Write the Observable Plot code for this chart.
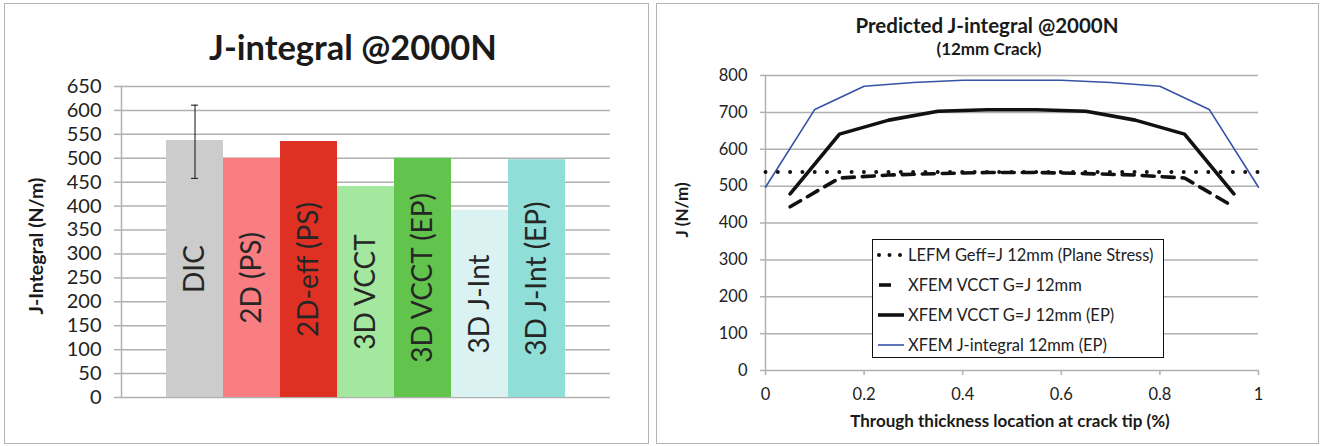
<!DOCTYPE html>
<html>
<head>
<meta charset="utf-8">
<script src="https://cdn.jsdelivr.net/npm/d3@7"></script>
<script src="https://cdn.jsdelivr.net/npm/@observablehq/plot@0.6"></script>
<style>
  html, body { margin: 0; padding: 0; background: #fff; }
  #wrap { position: relative; width: 1321px; height: 446px; overflow: hidden; background: #fff; font-family: Lato, "Open Sans", sans-serif; color: #222; }
  .panel { position: absolute; border: 1.5px solid #b4b4b4; box-sizing: border-box; }
  .abs { position: absolute; }
  .t { position: absolute; transform: translate(-50%, -50%); white-space: nowrap; font-weight: bold; line-height: 1; color: #1a1a1a; }
  .legend { position: absolute; border: 1.5px solid #111; background: #fff; box-sizing: border-box; }
  .row { position: absolute; left: 0; height: 20px; display: flex; align-items: center; font-size: 16.5px; white-space: nowrap; color: #222; }
  .row svg { margin-right: 4px; }
</style>
</head>
<body>
<div id="wrap">
  <div class="panel" style="left:4px;top:3px;width:645px;height:441px"></div>
  <div class="panel" style="left:656px;top:3px;width:663px;height:441px"></div>
  <div id="left" class="abs" style="left:0;top:0"></div>
  <div id="right" class="abs" style="left:655px;top:0"></div>
  <div class="t" style="left:353px;top:47px;font-size:34.5px;">J-integral @2000N</div>
  <div class="t" style="left:36px;top:246px;font-size:19.5px;transform:translate(-50%,-50%) rotate(-90deg);">J-Integral (N/m)</div>
  <div class="t" style="left:987px;top:25px;font-size:20.5px;">Predicted J-integral @2000N</div>
  <div class="t" style="left:989px;top:48px;font-size:17px;">(12mm Crack)</div>
  <div class="t" style="left:681px;top:210px;font-size:17px;transform:translate(-50%,-50%) rotate(-90deg);">J (N/m)</div>
  <div class="t" style="left:1010px;top:420px;font-size:17px;">Through thickness location at crack tip (%)</div>
  <div id="legend" class="legend" style="left:872px;top:239px;width:292px;height:119px"></div>
</div>
<script>
// ---------- Left chart data ----------
const barCategories = ["DIC", "2D (PS)", "2D-eff (PS)", "3D VCCT", "3D VCCT (EP)", "3D J-Int", "3D J-Int (EP)"];
const barValues = [537, 500, 535, 441, 500, 391, 497];
const barColors = ["#cccccc", "#f87e82", "#de3124", "#a4e8a0", "#62c44c", "#daf3f2", "#8fdfd8"];
const dicErrorLow = 458;
const dicErrorHigh = 611;
const leftYTicks = [0, 50, 100, 150, 200, 250, 300, 350, 400, 450, 500, 550, 600, 650];

// ---------- Right chart data ----------
const rightXTicks = [0, 0.2, 0.4, 0.6, 0.8, 1];
const rightYTicks = [0, 100, 200, 300, 400, 500, 600, 700, 800];
const lefmX = [0, 1];
const lefmY = [538, 538];
const vcctX = [0.05, 0.15, 0.25, 0.35, 0.45, 0.55, 0.65, 0.75, 0.85, 0.95];
const vcctY = [444, 522, 530, 534, 537, 537, 534, 530, 522, 444];
const vcctEpY = [479, 641, 679, 703, 707, 707, 703, 679, 641, 479];
const jintX = [0, 0.1, 0.2, 0.3, 0.4, 0.5, 0.6, 0.7, 0.8, 0.9, 1];
const jintY = [497, 708, 771, 781, 787, 787, 787, 781, 771, 708, 497];
const seriesNames = ["LEFM Geff=J 12mm (Plane Stress)", "XFEM VCCT G=J 12mm", "XFEM VCCT G=J 12mm (EP)", "XFEM J-integral 12mm (EP)"];

const gridColor = "#b0b0b0";
const blue = "#3552a6";

// ---------- Left chart ----------
const bars = barCategories.map((c, i) => ({c, v: barValues[i]}));
const err = [{c: barCategories[0], lo: dicErrorLow, hi: dicErrorHigh}];

const left = Plot.plot({
  width: 650, height: 446,
  marginLeft: 121, marginRight: 40, marginTop: 86, marginBottom: 49,
  style: {fontFamily: "Lato, 'Open Sans', sans-serif", fontSize: "20px", color: "#222", background: "transparent"},
  x: {domain: barCategories, paddingInner: 0, paddingOuter: 0.757, axis: null},
  y: {domain: [0, 650], axis: null},
  color: {domain: barCategories, range: barColors},
  marks: [
    Plot.ruleY(leftYTicks, {stroke: gridColor, strokeWidth: 1.5}),
    Plot.frame({anchor: "left", stroke: gridColor, strokeWidth: 1.5}),
    Plot.axisY(leftYTicks, {tickSize: 7, tickPadding: 13, stroke: gridColor, strokeWidth: 1.5, fill: "#222", fontSize: 20, label: null, tickFormat: d => String(d)}),
    Plot.barY(bars, {x: "c", y: "v", fill: "c"}),
    Plot.ruleX(err, {x: "c", y1: "lo", y2: "hi", stroke: "#111", strokeWidth: 1}),
    Plot.tickY(err, {x: "c", y: "lo", stroke: "#111", strokeWidth: 1, insetLeft: 25, insetRight: 25}),
    Plot.tickY(err, {x: "c", y: "hi", stroke: "#111", strokeWidth: 1, insetLeft: 25, insetRight: 25}),
    Plot.text(bars, {x: "c", y: d => d.v / 2, text: "c", rotate: -90, fontSize: 28, fill: "#262626"})
  ]
});
document.getElementById("left").appendChild(left);

// ---------- Right chart ----------
const lefm = lefmX.map((x, i) => ({x, y: lefmY[i]}));
const vcct = vcctX.map((x, i) => ({x, y: vcctY[i]}));
const vcctEp = vcctX.map((x, i) => ({x, y: vcctEpY[i]}));
const jint = jintX.map((x, i) => ({x, y: jintY[i]}));

const right = Plot.plot({
  width: 666, height: 446,
  marginLeft: 110, marginRight: 63, marginTop: 75, marginBottom: 76,
  style: {fontFamily: "Lato, 'Open Sans', sans-serif", fontSize: "16px", color: "#222", background: "transparent"},
  x: {domain: [0, 1], axis: null},
  y: {domain: [0, 800], axis: null},
  marks: [
    Plot.ruleY(rightYTicks, {stroke: gridColor, strokeWidth: 1.5}),
    Plot.frame({anchor: "left", stroke: gridColor, strokeWidth: 1.5}),
    Plot.axisY(rightYTicks, {tickSize: 5, tickPadding: 13, stroke: gridColor, strokeWidth: 1.5, fill: "#222", fontSize: 16.5, label: null, tickFormat: d => String(d)}),
    Plot.axisX(rightXTicks, {tickSize: 5, tickPadding: 13, stroke: gridColor, strokeWidth: 1.5, fill: "#222", fontSize: 16.5, label: null, tickFormat: d => String(d)}),
    Plot.line(jint, {x: "x", y: "y", stroke: blue, strokeWidth: 1.6}),
    Plot.line(vcctEp, {x: "x", y: "y", stroke: "#111", strokeWidth: 3.6, strokeLinejoin: "round"}),
    Plot.line(vcct, {x: "x", y: "y", stroke: "#111", strokeWidth: 3.6, strokeDasharray: "12,8"}),
    Plot.line(lefm, {x: "x", y: "y", stroke: "#111", strokeWidth: 4, strokeDasharray: "0,12.3", strokeLinecap: "round"})
  ]
});
document.getElementById("right").appendChild(right);

// ---------- Legend ----------
const swatches = [
  '<line x1="3" y1="10" x2="26" y2="10" stroke="#111" stroke-width="4" stroke-dasharray="0,10.5" stroke-linecap="round"/>',
  '<line x1="3" y1="10" x2="15" y2="10" stroke="#111" stroke-width="3.6"/>',
  '<line x1="2" y1="10" x2="28" y2="10" stroke="#111" stroke-width="3.6"/>',
  '<line x1="2" y1="10" x2="28" y2="10" stroke="' + blue + '" stroke-width="1.6"/>'
];
const leg = document.getElementById("legend");
seriesNames.forEach((name, i) => {
  const row = document.createElement("div");
  row.className = "row";
  row.style.top = (5 + i * 30) + "px";
  row.style.left = "3px";
  row.innerHTML = '<svg width="28" height="20">' + swatches[i] + '</svg><span>' + name + '</span>';
  leg.appendChild(row);
});
</script>
</body>
</html>
